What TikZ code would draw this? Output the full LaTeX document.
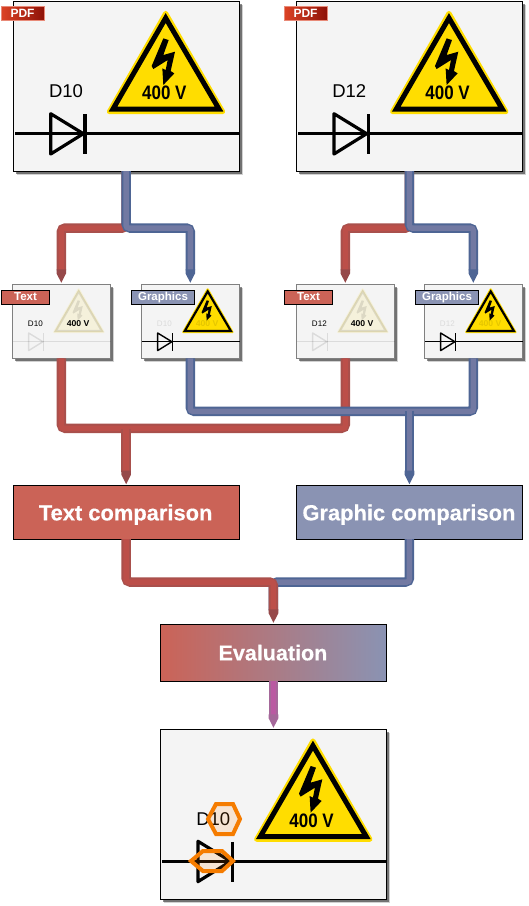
\documentclass[tikz,border=0pt]{standalone}
\usepackage{fontspec}
\setmainfont{Liberation Sans}
\usetikzlibrary{calc,shadows}
\definecolor{redout}{HTML}{A9504C}
\definecolor{redin}{HTML}{BC4F49}
\definecolor{redhead}{HTML}{96494A}
\definecolor{blueout}{HTML}{4E6594}
\definecolor{bluein}{HTML}{7279A2}
\definecolor{bluehead}{HTML}{4E6594}
\definecolor{purpout}{HTML}{A5689A}
\definecolor{purpin}{HTML}{BA5AA2}
\definecolor{purphead}{HTML}{A5689A}
\definecolor{boxred}{HTML}{CB6357}
\definecolor{boxblue}{HTML}{8A93B3}
\definecolor{paper}{HTML}{F4F4F4}
\definecolor{signyellow}{HTML}{FFDD00}
\definecolor{hexorange}{HTML}{F57C00}
\definecolor{pdfleft}{HTML}{DC4325}
\definecolor{pdfright}{HTML}{8E1208}
\definecolor{pdfrim}{HTML}{E88A78}
\tikzset{
  softshadow/.style={general shadow={shadow xshift=3.5pt,shadow yshift=-3.5pt,fill=black,opacity=.18},
                     general shadow={shadow xshift=2.5pt,shadow yshift=-2.5pt,fill=black,opacity=.45}},
  bigsheet/.style={draw=black,line width=1pt,fill=paper,softshadow,inner sep=0,outer sep=0,anchor=north west},
  smallsheet/.style={draw=black!50,line width=1pt,fill=paper,softshadow,inner sep=0,outer sep=0,anchor=north west},
  titlebox/.style={draw=black,line width=.9pt,inner sep=0,outer sep=0,anchor=north west,text=white,
     font=\fontsize{21.9}{24}\selectfont\bfseries\addfontfeature{FakeBold=0.4}},
  pdftag/.style={left color=pdfleft,right color=pdfright,draw=pdfrim,line width=.7pt,inner sep=0,outer sep=0,anchor=north west,text=white,
     minimum width=43pt,minimum height=14pt,font=\fontsize{12}{13}\selectfont\bfseries},
  cardtag/.style={draw=black,line width=.9pt,fill=#1,inner sep=0,outer sep=0,anchor=north west,text=white,
     minimum height=14pt,text height=8.5pt,text depth=2.5pt,font=\fontsize{11.5}{13}\selectfont\bfseries},
  hexmark/.style={draw=hexorange,line width=4pt,fill=orange,fill opacity=.13,line join=miter}
}
\newcommand\sheetlabel{D10}
\newcommand\voltx{.87}
% name, x, y, width, height, scale, box style, graphics opacity, text opacity
\newcommand\sheet[9]{%
  \node[#6,minimum width=#4pt,minimum height=#5pt] (#1) at (#2,#3) {};
  \begin{scope}[shift={(#2,#3)},scale=#7/3,shift={(-39,-5)}]
    \fill[signyellow,opacity=#8] (497,40) -- (328,335) -- (668,335) -- cycle;
    \draw[signyellow,opacity=#8,line width=#7*5pt,line join=round] (497,40) -- (328,335) -- (668,335) -- cycle;
    \draw[black,opacity=#8,line width=#7*5pt,line join=miter] (497,54) -- (339,327) -- (657,327) -- cycle;
    \fill[black,opacity=#8] (490,115) -- (506,120) -- (490,165) -- (525,155) -- (512,213) -- (523,220) -- (490,255) -- (487,205) -- (497,210) -- (503,180) -- (460,207) -- (455,198) -- cycle;
    \draw[black,opacity=#8,line width=#7*3.4pt] (45,401) -- (718,401);
    \draw[black,opacity=#8,line width=#7*3.2pt,line join=round] (152,341) -- (152,462) -- (250,401) -- cycle;
    \draw[black,opacity=#8,line width=#7*3.4pt] (255,343) -- (255,462);
    \node[transform shape,scale=3,inner sep=0,opacity=#9,text=black,font=\fontsize{18.5}{20}\selectfont] (#1d) at (198,274) {\sheetlabel};
    \node[transform shape,scale=3,xscale=\voltx,inner sep=0,opacity=#9,text=black,font=\fontsize{19.5}{20}\selectfont\bfseries] (#1v) at (493,279) {400 V};
  \end{scope}
}
\newcommand\conn[3]{%
  \draw[#1out,line width=9.5pt,rounded corners=4pt] #3;
  \draw[#2in,line width=5.5pt,rounded corners=2.5pt] #3;
}
\newcommand\arrowhead[2]{%
  \fill[#1head] ($(#2)+(-4.8,-15)$) -- ($(#2)+(4.8,-15)$) -- ($(#2)+(4.8,-11)$) -- ($(#2)+(0,-1.5)$) -- ($(#2)+(-4.8,-11)$) -- cycle;
}
\begin{document}
\begin{tikzpicture}[x=1pt,y=-1pt]
\useasboundingbox (0,0) rectangle (529,906);
\fill[white] (0,0) rectangle (529,906);
% sheets
\sheet{pa}{13}{1.7}{226.3}{169.3}{bigsheet}{1}{1}{1}
\renewcommand\sheetlabel{D12}
\sheet{pb}{296.3}{1.7}{226.3}{169.3}{bigsheet}{1}{1}{1}
\renewcommand\voltx{1.02}
\renewcommand\sheetlabel{D10}
\sheet{ta}{12.3}{284.3}{98}{74}{smallsheet}{.435}{.1}{1}
\sheet{ga}{141.3}{284.3}{98}{74}{smallsheet}{.435}{1}{.1}
\renewcommand\sheetlabel{D12}
\sheet{tb}{296.3}{284.3}{98}{74}{smallsheet}{.435}{.1}{1}
\sheet{gb}{424.3}{284.3}{98}{74}{smallsheet}{.435}{1}{.1}
\renewcommand\voltx{.87}
\renewcommand\sheetlabel{D10}
\sheet{res}{160.3}{729.3}{226.3}{169.7}{bigsheet}{1}{1}{1}
% title boxes
\node[titlebox,fill=boxred,minimum width=226.3pt,minimum height=53.3pt,text height=21pt,text depth=5pt] (tc) at (13,485.7) {\kern-1pt Text comparison};
\node[titlebox,fill=boxblue,minimum width=226.3pt,minimum height=53.3pt,text height=21pt,text depth=5pt] (gc) at (296.3,485.7) {\kern-1pt Graphic comparison};
\node[titlebox,left color=boxred,right color=boxblue,minimum width=226.3pt,minimum height=56.7pt] (ev) at (160.3,624.3) {\fontsize{21.5}{24}\selectfont\kern-1pt Evaluation};
% tags
\node[pdftag] (ptaga) at (1,6) {PDF};
\node[pdftag] (ptagb) at (284,6) {PDF};
\node[cardtag=boxred,minimum width=48pt] (ctaga) at (1.5,290) {Text};
\node[cardtag=boxblue,minimum width=63pt] (gtaga) at (131.5,290) {Graphics};
\node[cardtag=boxred,minimum width=48pt] (ctagb) at (284.5,290) {Text};
\node[cardtag=boxblue,minimum width=63pt] (gtagb) at (415.5,290) {Graphics};
% top connectors
\conn{red}{red}{(pa.south) -- ++(0,57) -| ($(ta.north)+(0,-14)$)}
\conn{blue}{blue}{(pa.south) -- ++(0,57) -| ($(ga.north)+(0,-14)$)}
\conn{red}{red}{(pb.south) -- ++(0,57) -| ($(tb.north)+(0,-14)$)}
\conn{blue}{blue}{(pb.south) -- ++(0,57) -| ($(gb.north)+(0,-14)$)}
\arrowhead{red}{ta.north}
\arrowhead{blue}{ga.north}
\arrowhead{red}{tb.north}
\arrowhead{blue}{gb.north}
% middle connectors
\conn{red}{red}{(ta.south) -- ++(0,70) -| (tb.south)}
\conn{red}{red}{($(tc.north)+(0,-57)$) -- ($(tc.north)+(0,-14)$)}
\conn{blue}{blue}{(ga.south) -- ++(0,53) -| (gb.south)}
\conn{blue}{blue}{($(gc.north)+(0,-75)$) -- ($(gc.north)+(0,-14)$)}
\arrowhead{red}{tc.north}
\arrowhead{blue}{gc.north}
% lower connectors
\conn{blue}{blue}{(gc.south) -- ++(0,43) -| ($(ev.north)+(0,-14)$)}
\conn{red}{red}{(tc.south) -- ++(0,43) -| ($(ev.north)+(0,-14)$)}
\arrowhead{red}{ev.north}
\conn{purp}{purp}{(ev.south) -- ($(res.north)+(0,-14)$)}
\arrowhead{purp}{res.north}
% highlight marks
\draw[hexmark] (208,819) -- (216,804) -- (233,804) -- (240,819) -- (233,834) -- (216,834) -- cycle;
\draw[hexmark] (191,861) -- (203,851) -- (222,851) -- (233,861) -- (222,871) -- (203,871) -- cycle;
\end{tikzpicture}
\end{document}
